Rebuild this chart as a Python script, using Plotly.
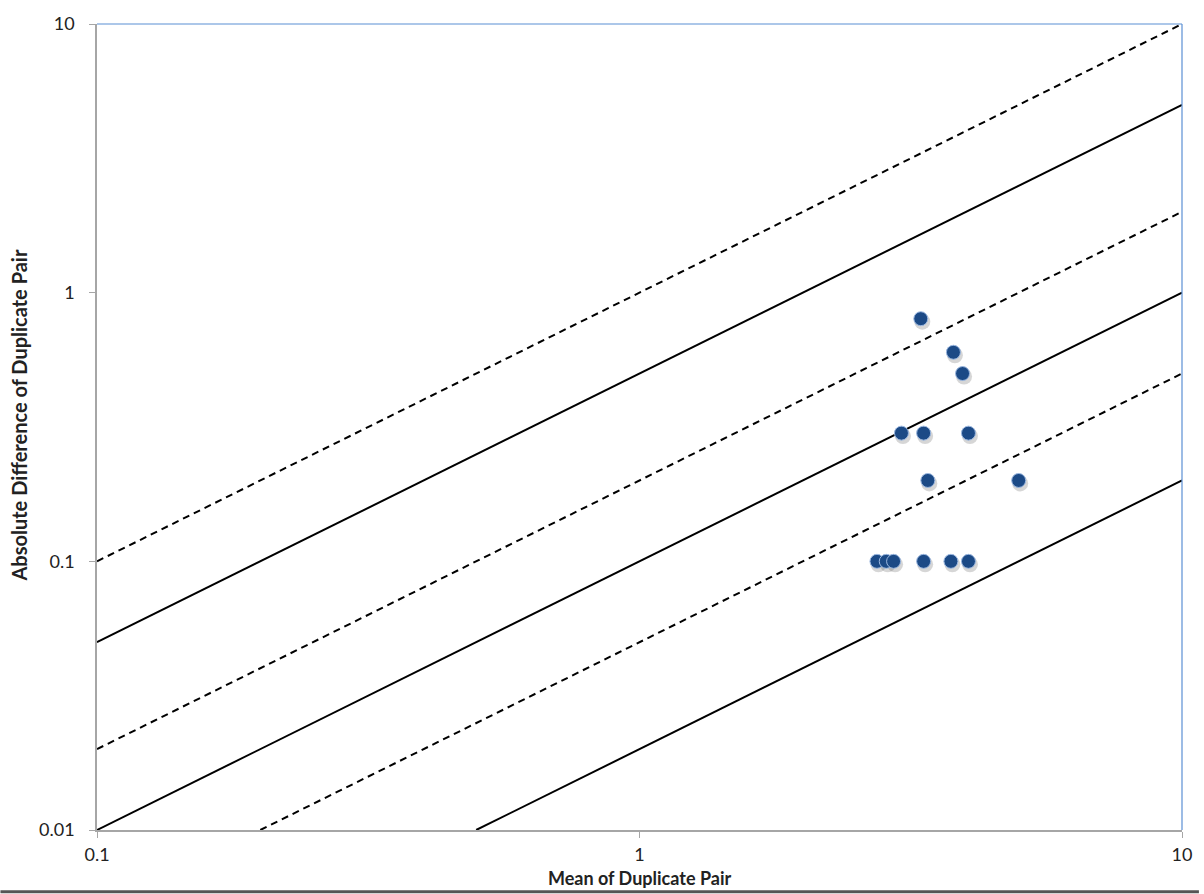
import numpy as np
import plotly.graph_objects as go

# Data
mean_pair = [3.30, 3.79, 3.94, 3.04, 3.34, 4.04, 3.40, 5.00, 2.74, 2.85, 2.94, 3.34, 3.75, 4.04]
abs_diff  = [0.80, 0.60, 0.50, 0.30, 0.30, 0.30, 0.20, 0.20, 0.10, 0.10, 0.10, 0.10, 0.10, 0.10]

# Reference lines y = k * x
line_ratios = [1.0, 0.5, 0.2, 0.1, 0.05, 0.02]
line_dashes = ["dash", "solid", "dash", "solid", "dash", "solid"]

x_min, x_max = 0.1, 10
y_min, y_max = 0.01, 10
x_ticks = [0.1, 1, 10]
y_ticks = [0.01, 0.1, 1, 10]
x_tick_text = ["0.1", "1", "10"]
y_tick_text = ["0.01", "0.1", "1", "10"]
x_title = "Mean of Duplicate Pair"
y_title = "Absolute Difference of Duplicate Pair"

fig = go.Figure()

for k, d in zip(line_ratios, line_dashes):
    x0 = max(x_min, y_min / k)
    xs = [x0, x_max]
    ys = [k * v for v in xs]
    fig.add_trace(go.Scatter(x=xs, y=ys, mode="lines",
                             line=dict(color="black", width=2, dash="7px,5px" if d == "dash" else "solid"),
                             hoverinfo="skip", showlegend=False))

# soft shadow under markers
sx = [v * 10 ** (1.5 / 544) for v in mean_pair]
sy = [v * 10 ** (-3 / 270.7) for v in abs_diff]
fig.add_trace(go.Scatter(x=sx, y=sy, mode="markers",
                         marker=dict(size=16, color="rgba(70,70,70,0.22)", line=dict(width=0)),
                         hoverinfo="skip", showlegend=False))

fig.add_trace(go.Scatter(x=mean_pair, y=abs_diff, mode="markers",
                         marker=dict(size=14, color="#1c4a86",
                                     line=dict(color="#9cb8e0", width=1)),
                         showlegend=False))

font_family = "Lato, Open Sans, sans-serif"

fig.update_xaxes(type="log", range=[np.log10(x_min), np.log10(x_max)],
                 tickvals=x_ticks, ticktext=x_tick_text,
                 showgrid=False, zeroline=False,
                 showline=True, linecolor="#a6a6a6", linewidth=1.5,
                 ticks="outside", ticklen=6, tickcolor="#a6a6a6",
                 ticklabelstandoff=2,
                 tickfont=dict(size=18, color="#222", family=font_family))
fig.update_yaxes(type="log", range=[np.log10(y_min), np.log10(y_max)],
                 tickvals=y_ticks, ticktext=y_tick_text,
                 showgrid=False, zeroline=False,
                 showline=True, linecolor="#a6a6a6", linewidth=1.5,
                 ticks="outside", ticklen=6, tickcolor="#a6a6a6",
                 ticklabelstandoff=11,
                 tickfont=dict(size=18, color="#222", family=font_family))

fig.add_annotation(text="<b>" + x_title + "</b>", xref="paper", yref="paper",
                   x=0.5, y=-49 / 816, xanchor="center", yanchor="middle", showarrow=False,
                   font=dict(size=18, color="#222", family=font_family))
fig.add_annotation(text="<b>" + y_title + "</b>", xref="paper", yref="paper",
                   x=(19 - 97) / 1090, y=(830 - 410) / 816, xanchor="center", yanchor="middle",
                   textangle=-90, showarrow=False,
                   font=dict(size=20, color="#222", family=font_family))

# blue top and right borders
fig.add_shape(type="line", xref="paper", yref="paper", x0=0, x1=1, y0=1, y1=1,
              line=dict(color="#5b8fd4", width=1.2))
fig.add_shape(type="line", xref="paper", yref="paper", x0=1, x1=1, y0=0, y1=1,
              line=dict(color="#5b8fd4", width=1.2))
# dark strip at bottom of image
fig.add_shape(type="line", xref="paper", yref="paper", x0=-97 / 1090, x1=1 + 17 / 1090,
              y0=-62.5 / 816, y1=-62.5 / 816, line=dict(color="#555", width=3))

fig.update_layout(width=1204, height=894,
                  margin=dict(l=97, r=17, t=14, b=64),
                  plot_bgcolor="white", paper_bgcolor="white",
                  font=dict(family=font_family))

fig.write_html("out.html", config={"displayModeBar": False},
               post_script="document.documentElement.style.margin='0';document.body.style.margin='0';"
                           "document.documentElement.style.overflow='hidden';document.body.style.overflow='hidden';")
